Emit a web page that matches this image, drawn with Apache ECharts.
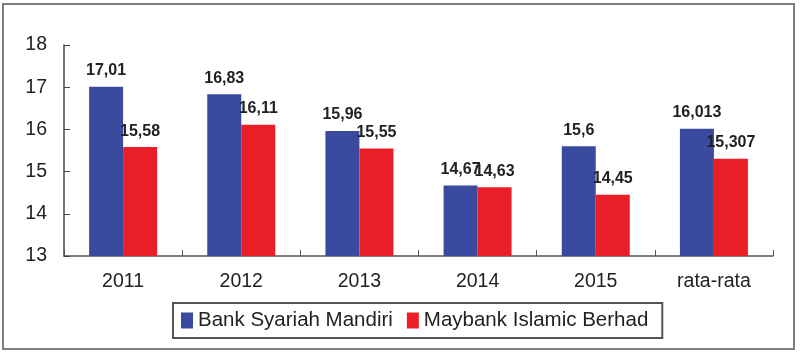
<!DOCTYPE html>
<html>
<head>
<meta charset="utf-8">
<script src="https://cdn.jsdelivr.net/npm/echarts@6/dist/echarts.min.js"></script>
<style>
  html, body { margin: 0; padding: 0; background: #fff; }
  #chart { width: 800px; height: 354px; }
</style>
</head>
<body>
<div id="chart"></div>
<script>
const categories = ['2011', '2012', '2013', '2014', '2015', 'rata-rata'];
const mandiri = [17.01, 16.83, 15.96, 14.67, 15.6, 16.013];
const maybank = [15.58, 16.11, 15.55, 14.63, 14.45, 15.307];
const seriesNames = ['Bank Syariah Mandiri', 'Maybank Islamic Berhad'];

const font = '"Liberation Sans", Arial, sans-serif';

function fmt(p) {
  return String(p.value).replace('.', ',');
}

const chart = echarts.init(document.getElementById('chart'));

const option = {
  backgroundColor: '#fff',
  animation: false,
  textStyle: { fontFamily: font },
  graphic: [
    {
      type: 'rect',
      shape: { x: 3, y: 4, width: 791, height: 345 },
      style: { fill: 'none', stroke: '#7f7f7f', lineWidth: 2 },
      z: -1
    }
  ],
  grid: { left: 64, right: 27, top: 45, bottom: 98 },
  legend: {
    left: 173,
    top: 303,
    data: seriesNames,
    icon: 'rect',
    itemWidth: 12,
    itemHeight: 16,
    itemGap: 14,
    padding: [7, 14, 7, 8],
    borderColor: '#555',
    borderWidth: 2,
    borderRadius: 0,
    textStyle: { fontSize: 20.5, color: '#222', fontFamily: font }
  },
  xAxis: {
    type: 'category',
    data: categories,
    axisLine: { lineStyle: { color: '#555', width: 1.5 } },
    axisTick: { show: true, inside: true, length: 6, lineStyle: { color: '#555' } },
    axisLabel: { fontSize: 19.5, color: '#222', margin: 16, fontFamily: font }
  },
  yAxis: {
    type: 'value',
    min: 13,
    max: 18,
    interval: 1,
    splitLine: { show: false },
    axisLine: { show: true, lineStyle: { color: '#444', width: 1.5 } },
    axisTick: { show: true, inside: true, length: 6, lineStyle: { color: '#444' } },
    axisLabel: { fontSize: 19.5, color: '#222', margin: 17, fontFamily: font }
  },
  series: [
    {
      name: seriesNames[0],
      type: 'bar',
      data: mandiri,
      barWidth: 34,
      barGap: '0%',
      itemStyle: { color: '#3a4b9f' },
      label: {
        show: true,
        position: 'top',
        distance: 8,
        formatter: fmt,
        fontSize: 16,
        fontWeight: 'bold',
        color: '#222',
        fontFamily: font
      }
    },
    {
      name: seriesNames[1],
      type: 'bar',
      data: maybank,
      barWidth: 34,
      barGap: '0%',
      itemStyle: { color: '#e91e26' },
      label: {
        show: true,
        position: 'top',
        distance: 8,
        formatter: fmt,
        fontSize: 16,
        fontWeight: 'bold',
        color: '#222',
        fontFamily: font
      }
    }
  ]
};

chart.setOption(option);
</script>
</body>
</html>
